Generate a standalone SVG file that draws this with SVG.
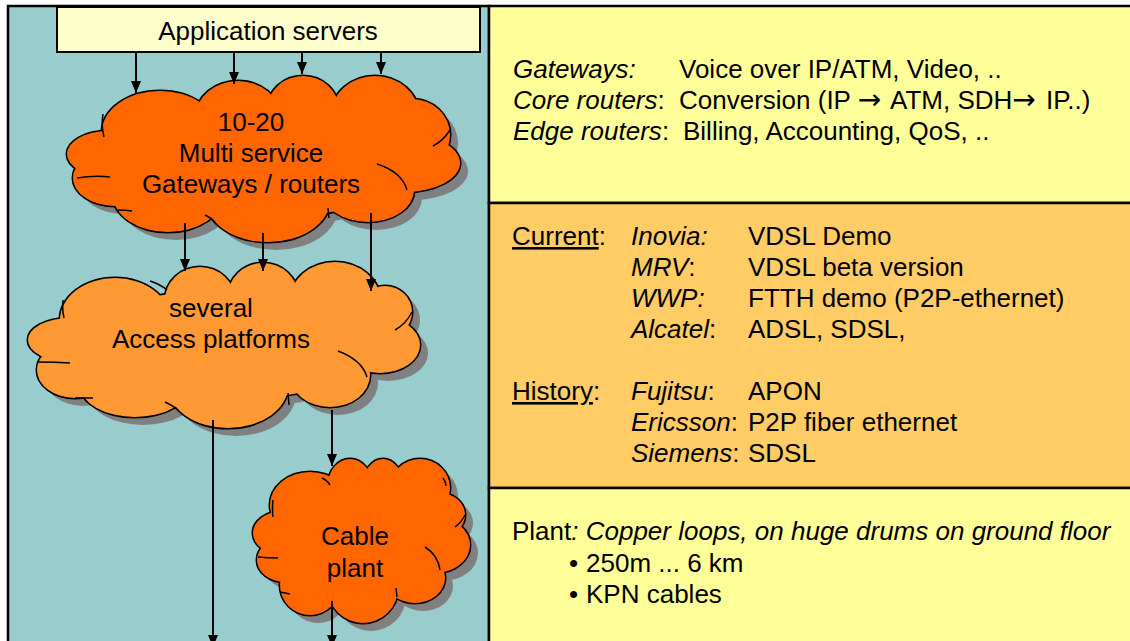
<svg xmlns="http://www.w3.org/2000/svg" xmlns:xlink="http://www.w3.org/1999/xlink" width="1130" height="641" viewBox="0 0 1130 641">
  <style>
    text { font-family: "Liberation Sans", Arial, sans-serif; font-size: 26px; fill: #000; }
    .mid { text-anchor: middle; }
    .it { font-style: italic; }
    .ul { text-decoration: underline; }
    .arr { font-family: "DejaVu Sans", sans-serif; font-size: 28px; }
    .panel { stroke: #000; stroke-width: 2.5; }
    .conn { stroke: #000; stroke-width: 2; fill: none; marker-end: url(#arrow); }
    .inner { fill: none; stroke: #000; stroke-width: 1.5; }
  </style>
  <defs>
    <marker id="arrow" viewBox="0 0 12 10" refX="12" refY="5" markerWidth="12" markerHeight="10" markerUnits="userSpaceOnUse" orient="auto">
      <path d="M0,0 L12,5 L0,10 z" fill="#000"/>
    </marker>
    <g id="shape-c1">
      <ellipse cx="265" cy="160" rx="150" ry="58"/>
      <ellipse cx="160" cy="132" rx="58" ry="41"/>
      <ellipse cx="238" cy="116" rx="42" ry="35"/>
      <ellipse cx="303" cy="110" rx="36" ry="34"/>
      <ellipse cx="375" cy="115" rx="44" ry="39"/>
      <ellipse cx="412" cy="135" rx="38" ry="36"/>
      <ellipse cx="405" cy="163" rx="55" ry="29"/>
      <ellipse cx="368" cy="190" rx="46" ry="32"/>
      <ellipse cx="268" cy="200" rx="62" ry="42"/>
      <ellipse cx="168" cy="195" rx="55" ry="37"/>
      <ellipse cx="115" cy="178" rx="42" ry="28"/>
      <ellipse cx="108" cy="154" rx="41" ry="23"/>
    </g>
    <g id="shape-c2">
      <ellipse cx="225" cy="345" rx="150" ry="55"/>
      <ellipse cx="115" cy="320" rx="55" ry="42"/>
      <ellipse cx="200" cy="300" rx="35" ry="33"/>
      <ellipse cx="263" cy="296" rx="35" ry="33"/>
      <ellipse cx="335" cy="300" rx="45" ry="38"/>
      <ellipse cx="385" cy="312" rx="27" ry="26"/>
      <ellipse cx="380" cy="345" rx="40" ry="28"/>
      <ellipse cx="330" cy="375" rx="40" ry="32"/>
      <ellipse cx="228" cy="386" rx="60" ry="42"/>
      <ellipse cx="135" cy="385" rx="55" ry="32"/>
      <ellipse cx="75" cy="370" rx="38" ry="28"/>
      <ellipse cx="70" cy="340" rx="42" ry="22"/>
    </g>
    <g id="shape-c3">
      <ellipse cx="360" cy="540" rx="85" ry="55"/>
      <ellipse cx="310" cy="505" rx="40" ry="33"/>
      <ellipse cx="350" cy="485" rx="22" ry="26"/>
      <ellipse cx="383" cy="485" rx="20" ry="26"/>
      <ellipse cx="420" cy="488" rx="30" ry="29"/>
      <ellipse cx="440" cy="515" rx="25" ry="22"/>
      <ellipse cx="435" cy="545" rx="35" ry="28"/>
      <ellipse cx="415" cy="578" rx="30" ry="25"/>
      <ellipse cx="363" cy="588" rx="35" ry="35"/>
      <ellipse cx="310" cy="585" rx="30" ry="30"/>
      <ellipse cx="285" cy="560" rx="28" ry="22"/>
      <ellipse cx="283" cy="533" rx="30" ry="22"/>
    </g>
  </defs>

  <rect x="0" y="0" width="1130" height="641" fill="#fff"/>

  <g id="left-panel">
    <rect class="panel" x="8" y="6" width="481" height="660" fill="#99CCCC"/>
  </g>

  <g id="panel-routers">
    <rect class="panel" x="489" y="6" width="660" height="197" fill="#FFFF99"/>
    <text x="513" y="78"><tspan class="it">Gateways:</tspan><tspan x="679">Voice over IP/ATM, Video, ..</tspan></text>
    <text x="513" y="109"><tspan class="it">Core routers</tspan>:<tspan x="679">Conversion (IP </tspan><tspan class="arr">→</tspan><tspan dx="3"> ATM, SDH</tspan><tspan class="arr">→</tspan><tspan dx="3"> IP..)</tspan></text>
    <text x="513" y="140"><tspan class="it">Edge routers</tspan>:<tspan x="683">Billing, Accounting, QoS, ..</tspan></text>
  </g>

  <g id="panel-access">
    <rect class="panel" x="489" y="203" width="660" height="285" fill="#FFCC66"/>
    <text x="512" y="245"><tspan class="ul">Current</tspan>:<tspan x="631" class="it">Inovia:</tspan><tspan x="748">VDSL Demo</tspan></text>
    <text x="631" y="276"><tspan class="it">MRV</tspan>:<tspan x="748">VDSL beta version</tspan></text>
    <text x="631" y="307"><tspan class="it">WWP:</tspan><tspan x="748">FTTH demo (P2P-ethernet)</tspan></text>
    <text x="631" y="338"><tspan class="it">Alcatel</tspan>:<tspan x="748">ADSL, SDSL,</tspan></text>
    <text x="512" y="400"><tspan class="ul">History</tspan>:<tspan x="631" class="it">Fujitsu</tspan>:<tspan x="748">APON</tspan></text>
    <text x="631" y="431"><tspan class="it">Ericsson</tspan>:<tspan x="748">P2P fiber ethernet</tspan></text>
    <text x="631" y="462"><tspan class="it">Siemens</tspan>:<tspan x="748">SDSL</tspan></text>
  </g>

  <g id="panel-plant">
    <rect class="panel" x="489" y="488" width="660" height="180" fill="#FFFF99"/>
    <text x="512" y="540">Plant<tspan class="it">: Copper loops, on huge drums on ground floor</tspan></text>
    <text x="569" y="572">•<tspan x="586">250m ... 6 km</tspan></text>
    <text x="569" y="603">•<tspan x="586">KPN cables</tspan></text>
  </g>

  <g id="app-servers">
    <rect x="57" y="7" width="423" height="45" fill="#FFFFCC" stroke="#000" stroke-width="2"/>
    <text class="mid" x="268" y="40">Application servers</text>
  </g>

  <g id="cloud-gateways">
    <use xlink:href="#shape-c1" transform="translate(8,8)" fill="#808080"/>
    <use xlink:href="#shape-c1" fill="#FF6600" stroke="#000" stroke-width="3"/>
    <use xlink:href="#shape-c1" fill="#FF6600"/>
    <path class="inner" d="M103,114 Q101,126 104,137 M450,130 Q443,141 433,146 M377,164 Q402,172 407,190 M328,208 L329,218 M205,215 Q212,218 216,224 M118,210 Q125,210 132,211 M77,178 Q95,175 110,177"/>
    <text class="mid" x="251" y="131">10-20</text>
    <text class="mid" x="251" y="162">Multi service</text>
    <text class="mid" x="251" y="193">Gateways / routers</text>
  </g>

  <g id="cloud-access">
    <use xlink:href="#shape-c2" transform="translate(8,8)" fill="#808080"/>
    <use xlink:href="#shape-c2" fill="#FF9933" stroke="#000" stroke-width="3"/>
    <use xlink:href="#shape-c2" fill="#FF9933"/>
    <path class="inner" d="M150,281 Q160,284 167,290 M412,312 Q406,324 395,330 M338,351 Q362,360 367,377 M288,393 L289,405 M165,402 Q172,405 178,410 M75,398 Q85,398 93,398 M37,362 Q55,362 70,363 M63,300 Q62,310 64,318"/>
    <text class="mid" x="211" y="317">several</text>
    <text class="mid" x="211" y="348">Access platforms</text>
  </g>

  <g id="cloud-cable">
    <use xlink:href="#shape-c3" transform="translate(8,8)" fill="#808080"/>
    <use xlink:href="#shape-c3" fill="#FF6600" stroke="#000" stroke-width="3"/>
    <use xlink:href="#shape-c3" fill="#FF6600"/>
    <path class="inner" d="M322,478 Q327,480 330,485 M443,478 Q446,482 446,486 M465,515 Q461,523 455,527 M425,547 Q438,555 440,570 M396,588 L397,597 M280,592 Q285,593 290,594 M258,557 Q268,558 278,558 M273,500 Q272,508 273,517"/>
    <text class="mid" x="355" y="545">Cable</text>
    <text class="mid" x="355" y="577">plant</text>
  </g>

  <g id="connectors">
    <line class="conn" x1="136" y1="52" x2="136" y2="93"/>
    <line class="conn" x1="234" y1="52" x2="234" y2="84"/>
    <line class="conn" x1="302" y1="52" x2="302" y2="74"/>
    <line class="conn" x1="381" y1="52" x2="381" y2="74"/>
    <line class="conn" x1="185" y1="223" x2="185" y2="271"/>
    <line class="conn" x1="263" y1="233" x2="263" y2="271"/>
    <line class="conn" x1="371" y1="213" x2="371" y2="291"/>
    <line class="conn" x1="213" y1="420" x2="213" y2="647"/>
    <line class="conn" x1="332" y1="410" x2="332" y2="466"/>
    <line class="conn" x1="332" y1="601" x2="332" y2="647"/>
  </g>
</svg>
